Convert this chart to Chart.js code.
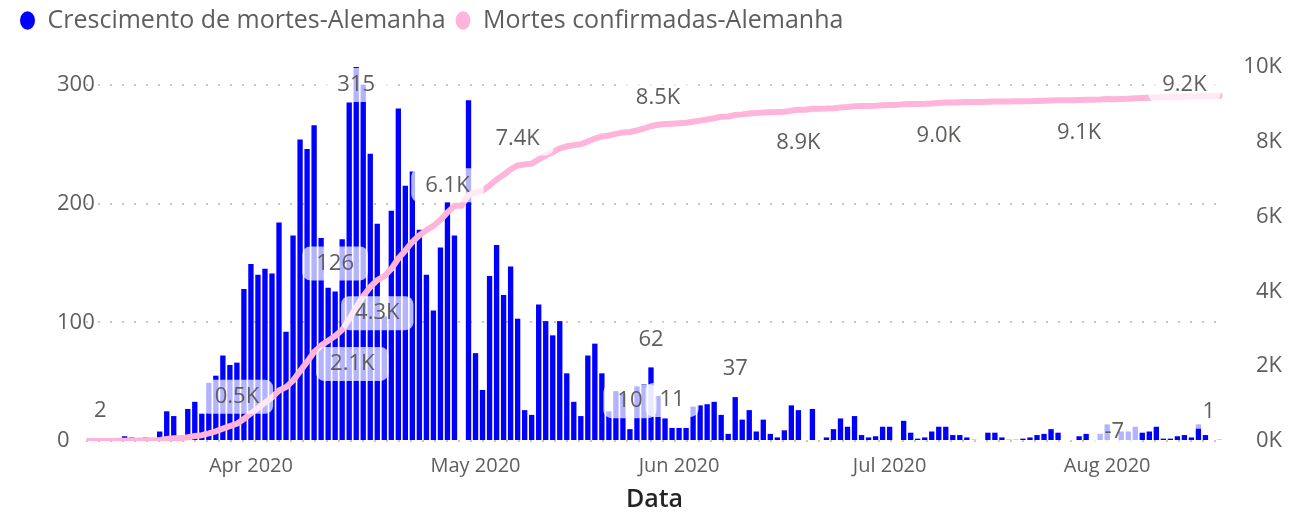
<!DOCTYPE html>
<html>
<head>
<meta charset="utf-8">
<script src="https://cdn.jsdelivr.net/npm/chart.js@4.4.1/dist/chart.umd.min.js"></script>
<style>
    html, body { margin: 0; padding: 0; background: #ffffff; }
    #chart-box { width: 1289px; height: 515px; position: relative; }
</style>
</head>
<body>
<div id="chart-box"><canvas id="deaths-chart"></canvas></div>
<script>
const dates = [
    '2020-03-09', '2020-03-10', '2020-03-11', '2020-03-12', '2020-03-13', '2020-03-14', '2020-03-15', '2020-03-16',
    '2020-03-17', '2020-03-18', '2020-03-19', '2020-03-20', '2020-03-21', '2020-03-22', '2020-03-23', '2020-03-24',
    '2020-03-25', '2020-03-26', '2020-03-27', '2020-03-28', '2020-03-29', '2020-03-30', '2020-03-31',
    '2020-04-01', '2020-04-02', '2020-04-03', '2020-04-04', '2020-04-05', '2020-04-06', '2020-04-07', '2020-04-08',
    '2020-04-09', '2020-04-10', '2020-04-11', '2020-04-12', '2020-04-13', '2020-04-14', '2020-04-15', '2020-04-16',
    '2020-04-17', '2020-04-18', '2020-04-19', '2020-04-20', '2020-04-21', '2020-04-22', '2020-04-23', '2020-04-24',
    '2020-04-25', '2020-04-26', '2020-04-27', '2020-04-28', '2020-04-29', '2020-04-30',
    '2020-05-01', '2020-05-02', '2020-05-03', '2020-05-04', '2020-05-05', '2020-05-06', '2020-05-07', '2020-05-08',
    '2020-05-09', '2020-05-10', '2020-05-11', '2020-05-12', '2020-05-13', '2020-05-14', '2020-05-15', '2020-05-16',
    '2020-05-17', '2020-05-18', '2020-05-19', '2020-05-20', '2020-05-21', '2020-05-22', '2020-05-23', '2020-05-24',
    '2020-05-25', '2020-05-26', '2020-05-27', '2020-05-28', '2020-05-29', '2020-05-30', '2020-05-31',
    '2020-06-01', '2020-06-02', '2020-06-03', '2020-06-04', '2020-06-05', '2020-06-06', '2020-06-07', '2020-06-08',
    '2020-06-09', '2020-06-10', '2020-06-11', '2020-06-12', '2020-06-13', '2020-06-14', '2020-06-15', '2020-06-16',
    '2020-06-17', '2020-06-18', '2020-06-19', '2020-06-20', '2020-06-21', '2020-06-22', '2020-06-23', '2020-06-24',
    '2020-06-25', '2020-06-26', '2020-06-27', '2020-06-28', '2020-06-29', '2020-06-30',
    '2020-07-01', '2020-07-02', '2020-07-03', '2020-07-04', '2020-07-05', '2020-07-06', '2020-07-07', '2020-07-08',
    '2020-07-09', '2020-07-10', '2020-07-11', '2020-07-12', '2020-07-13', '2020-07-14', '2020-07-15', '2020-07-16',
    '2020-07-17', '2020-07-18', '2020-07-19', '2020-07-20', '2020-07-21', '2020-07-22', '2020-07-23', '2020-07-24',
    '2020-07-25', '2020-07-26', '2020-07-27', '2020-07-28', '2020-07-29', '2020-07-30', '2020-07-31',
    '2020-08-01', '2020-08-02', '2020-08-03', '2020-08-04', '2020-08-05', '2020-08-06', '2020-08-07', '2020-08-08',
    '2020-08-09', '2020-08-10', '2020-08-11', '2020-08-12', '2020-08-13', '2020-08-14', '2020-08-15', '2020-08-16',
    '2020-08-17'
];

// Crescimento de mortes (daily)
const dailyDeaths = [
    2, 0, 1, 0, 2, 4, 3, 2, 3, 2,
    8, 25, 21, 0, 27, 33, 23, 49, 55, 72,
    64, 66, 128, 149, 140, 145, 141, 184, 92, 173,
    254, 246, 266, 171, 129, 126, 170, 285, 315, 300,
    242, 183, 105, 194, 280, 215, 227, 178, 140, 110,
    163, 201, 173, 0, 287, 74, 43, 139, 165, 123,
    147, 103, 26, 22, 115, 101, 89, 101, 57, 33,
    21, 72, 82, 57, 25, 42, 40, 10, 46, 48,
    62, 38, 19, 11, 11, 11, 29, 30, 31, 33,
    22, 6, 37, 18, 26, 8, 18, 6, 3, 9,
    30, 26, 0, 27, 0, 3, 10, 19, 12, 21,
    5, 3, 4, 12, 12, 0, 17, 7, 2, 3,
    8, 12, 12, 5, 5, 3, 1, 0, 7, 7,
    3, 1, 1, 2, 3, 5, 6, 10, 7, 0,
    0, 4, 6, 0, 6, 14, -7, 8, 8, 12,
    7, 8, 12, 2, 2, 4, 5, 3, 14, 5,
    0, 1
];

// Mortes confirmadas (cumulative)
const totalDeaths = [
    2, 2, 3, 3, 5, 9, 12, 14, 17, 19,
    27, 52, 73, 73, 100, 133, 156, 205, 260, 332,
    396, 462, 590, 739, 879, 1024, 1165, 1349, 1441, 1614,
    1868, 2114, 2380, 2551, 2680, 2806, 2976, 3261, 3576, 3876,
    4118, 4301, 4406, 4600, 4880, 5095, 5322, 5500, 5640, 5750,
    5913, 6114, 6287, 6287, 6574, 6648, 6691, 6830, 6995, 7118,
    7265, 7368, 7394, 7416, 7531, 7632, 7721, 7822, 7879, 7912,
    7933, 8005, 8087, 8144, 8169, 8211, 8251, 8261, 8307, 8355,
    8417, 8455, 8474, 8485, 8496, 8507, 8536, 8566, 8597, 8630,
    8672, 8678, 8715, 8733, 8759, 8767, 8785, 8791, 8794, 8803,
    8833, 8859, 8859, 8886, 8886, 8889, 8899, 8918, 8930, 8951,
    8956, 8959, 8963, 8975, 8987, 8987, 9004, 9011, 9013, 9016,
    9024, 9036, 9048, 9053, 9058, 9061, 9062, 9062, 9069, 9076,
    9079, 9080, 9081, 9083, 9086, 9091, 9097, 9107, 9114, 9114,
    9114, 9118, 9124, 9124, 9130, 9144, 9137, 9145, 9153, 9165,
    9172, 9180, 9192, 9194, 9196, 9200, 9205, 9208, 9222, 9227,
    9227, 9228
];

// month labels sit where the reference shows them
const monthTicks = {
    '2020-04-01': 'Apr 2020',
    '2020-05-03': 'May 2020',
    '2020-06-01': 'Jun 2020',
    '2020-07-01': 'Jul 2020',
    '2020-08-01': 'Aug 2020'
};
const leftTicks = [0, 100, 200, 300];
const rightTicks = [0, 2000, 4000, 6000, 8000, 10000];

// which points carry a data label
const barLabelIdx = [0, 35, 38, 77, 80, 83, 92, 146, 161];
const lineLabelIdx = [21, 31, 41, 51, 61, 81, 101, 121, 141, 156];
const lineLabelPos = ['above', 'right', 'below', 'above', 'above', 'above', 'below', 'below', 'below', 'above'];

const FONT = '"Segoe UI", "Open Sans", sans-serif';
const GREY = '#605E5C';
const BLUE = '#0000FF';
const PINK = '#FFB4DA';

Chart.defaults.font.family = FONT;


function kLabel(v) {
    return (v / 1000).toFixed(1) + 'K';
}

// Power BI style labels: text on a translucent white rounded box
const valueLabels = {
    id: 'valueLabels',
    afterDatasetsDraw(chart) {
        const ctx = chart.ctx;
        const area = chart.chartArea;
        const barMeta = chart.getDatasetMeta(0);
        const lineMeta = chart.getDatasetMeta(1);
        const items = [];

        barLabelIdx.forEach(i => {
            const el = barMeta.data[i];
            const v = dailyDeaths[i];
            items.push({ x: el.x, y: v >= 0 ? el.y - 28 : el.y + 28, text: String(v), right: false });
        });
        lineLabelIdx.forEach((i, k) => {
            const el = lineMeta.data[i];
            const pos = lineLabelPos[k];
            let y = el.y;
            if (pos === 'above') y = el.y - 27;
            if (pos === 'below') y = el.y + 33;
            items.push({ x: el.x, y: y + (pos === 'right' ? 2 : 0), text: kLabel(totalDeaths[i]), right: pos === 'right' });
        });

        ctx.save();
        ctx.font = '22px ' + FONT;
        ctx.textAlign = 'center';
        ctx.textBaseline = 'middle';
        items.forEach(it => {
            const tw = ctx.measureText(it.text).width;
            const w = tw + 28;
            const h = 34;
            let x = it.right ? it.x + 9 + w / 2 : it.x;
            x = Math.min(Math.max(x, area.left + tw / 2 + 8), area.right - tw / 2 - 8);
            const y = Math.min(Math.max(it.y, area.top + h / 2 + 1), area.bottom - 9);
            ctx.fillStyle = 'rgba(255, 255, 255, 0.7)';
            ctx.beginPath();
            ctx.roundRect(x - w / 2, y - h / 2, w, h, 8);
            ctx.fill();
            ctx.fillStyle = GREY;
            ctx.fillText(it.text, x, y);
        });
        ctx.restore();
    }
};


let deathsChart = new Chart(
    document.getElementById('deaths-chart'),
    {
        type: 'bar',
        data: {
            labels: dates,
            datasets: [
                {
                    label: 'Crescimento de mortes-Alemanha',
                    data: dailyDeaths,
                    backgroundColor: BLUE,
                    borderWidth: 0,
                    barPercentage: 0.76,
                    categoryPercentage: 1.0,
                    yAxisID: 'y',
                    order: 2
                },
                {
                    type: 'line',
                    label: 'Mortes confirmadas-Alemanha',
                    data: totalDeaths,
                    borderColor: PINK,
                    backgroundColor: PINK,
                    borderWidth: 6,
                    borderJoinStyle: 'round',
                    borderCapStyle: 'round',
                    pointRadius: 0,
                    pointBorderWidth: 0,
                    tension: 0,
                    yAxisID: 'yRight',
                    order: 1
                }
            ]
        },
        options: {
            responsive: true,
            maintainAspectRatio: false,
            animation: false,
            layout: {
                padding: { left: 10, top: -6, right: 0, bottom: 0 }
            },
            scales: {
                x: {
                    offset: true,
                    grid: { display: false, drawTicks: false },
                    border: { display: false },
                    ticks: {
                        autoSkip: false,
                        maxRotation: 0,
                        minRotation: 0,
                        padding: 13,
                        color: GREY,
                        font: { size: 20 },
                        callback: (value, index) => monthTicks[dates[index]] ?? null
                    },
                    title: {
                        display: true,
                        text: 'Data',
                        color: '#252423',
                        font: { size: 25, weight: '600' },
                        padding: { top: 0, bottom: 0 }
                    },
                    afterFit: scale => { scale.height = 74; }
                },
                y: {
                    position: 'left',
                    min: 0,
                    max: 315,
                    afterBuildTicks: scale => { scale.ticks = leftTicks.map(v => ({ value: v })); },
                    grid: { color: '#C8C6C4', lineWidth: 2, drawTicks: false },
                    border: { display: false, dash: [2, 10] },
                    ticks: {
                        mirror: true,
                        crossAlign: 'near',
                        padding: -29,
                        color: GREY,
                        font: { size: 22 }
                    },
                    afterFit: scale => {
                        scale.width = 76;
                        scale.paddingTop = 67;
                        scale.paddingBottom = 0;
                    }
                },
                yRight: {
                    position: 'right',
                    min: 0,
                    max: 10000,
                    afterBuildTicks: scale => { scale.ticks = rightTicks.map(v => ({ value: v })); },
                    grid: { display: false, drawTicks: false },
                    border: { display: false },
                    ticks: {
                        mirror: true,
                        crossAlign: 'near',
                        padding: 59,
                        color: GREY,
                        font: { size: 22 },
                        callback: v => (v / 1000) + 'K'
                    },
                    afterFit: scale => {
                        scale.width = 66;
                        scale.paddingTop = 67;
                        scale.paddingBottom = 0;
                    }
                }
            },
            plugins: {
                legend: {
                    position: 'top',
                    align: 'start',
                    labels: {
                        usePointStyle: true,
                        pointStyle: 'circle',
                        pointStyleWidth: 15,
                        boxHeight: 13,
                        padding: 10,
                        color: GREY,
                        font: { size: 25 },
                        sort: (a, b) => a.datasetIndex - b.datasetIndex
                    }
                },
                // empty title used as a spacer between legend and plot
                title: {
                    display: true,
                    text: '',
                    weight: 500,
                    font: { size: 10 },
                    padding: { top: 12, bottom: 0 }
                },
                tooltip: { enabled: false }
            }
        },
        plugins: [valueLabels]
    }
);
</script>
</body>
</html>
